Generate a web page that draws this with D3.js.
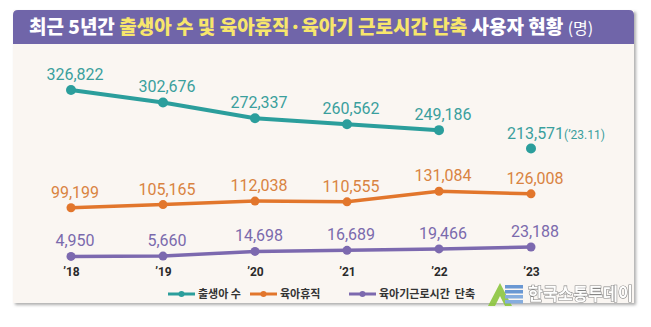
<!DOCTYPE html>
<html>
<head>
<meta charset="utf-8">
<script src="https://cdn.jsdelivr.net/npm/d3@7"></script>
<style>
  html, body { margin: 0; padding: 0; background: #fff; }
  svg { display: block; }
</style>
</head>
<body>
<div id="chart"></div>
<script>
const years = ['’18', '’19', '’20', '’21', '’22', '’23']
const births = [326822, 302676, 272337, 260562, 249186, 213571]
const leave = [99199, 105165, 112038, 110555, 131084, 126008]
const reduced = [4950, 5660, 14698, 16689, 19466, 23188]
const birthNote = '(’23.11)'
const seriesNames = ['출생아 수', '육아휴직', '육아기근로시간  단축']

const width = 651,
  height = 327

const colors = ['#2b9e9c', '#e2762c', '#7c69af']
const textColors = ['#3a9f9d', '#d98341', '#7a6aad']

const svg = d3.select('#chart').append('svg')
  .attr('width', width)
  .attr('height', height)
  .style('font-family', 'Roboto, "Noto Sans CJK KR", sans-serif')

const defs = svg.append('defs')
const shadow = defs.append('filter').attr('id', 'shadow')
  .attr('x', '-5%').attr('y', '-5%').attr('width', '110%').attr('height', '115%')
shadow.append('feDropShadow')
  .attr('dx', 2).attr('dy', 2).attr('stdDeviation', 1.5)
  .attr('flood-color', '#777').attr('flood-opacity', 0.6)

// panel + header
const panel = {x: 13, y: 10, w: 621, h: 293, head: 34, r: 5}
svg.append('rect')
  .attr('x', panel.x).attr('y', panel.y)
  .attr('width', panel.w).attr('height', panel.h)
  .attr('fill', '#faf6f2')
  .attr('filter', 'url(#shadow)')
svg.append('path')
  .attr('d', `M${panel.x},${panel.y + panel.head} V${panel.y + panel.r} Q${panel.x},${panel.y} ${panel.x + panel.r},${panel.y}
    H${panel.x + panel.w - panel.r} Q${panel.x + panel.w},${panel.y} ${panel.x + panel.w},${panel.y + panel.r} V${panel.y + panel.head} Z`)
  .attr('fill', '#7065a9')

const title = svg.append('text')
  .attr('x', 29).attr('y', 34)
  .style('font-family', '"Noto Sans CJK KR", sans-serif')
  .style('font-weight', 900)
  .style('font-size', '19px')
  .attr('fill', '#fff')
title.append('tspan').text('최근 5년간 ')
title.append('tspan').attr('fill', '#f7e66c').text('출생아 수 및 육아휴직·육아기 근로시간 단축')
title.append('tspan').text(' 사용자 현황 ')
title.append('tspan').style('font-weight', 400).style('font-size', '16px').text('(명)')

// scales
const xScale = d3.scalePoint()
  .domain(years)
  .range([71, 531])
const yScale = d3.scaleLinear()
  .domain([0, 350000])
  .range([259, 78])

const xAxis = d3.axisBottom(xScale).tickSize(0).tickPadding(0)
const axisG = svg.append('g')
  .attr('transform', 'translate(0, 267)')
  .call(xAxis)
axisG.select('.domain').remove()
axisG.selectAll('text')
  .style('font-size', '12px')
  .style('font-weight', 700)
  .style('font-family', 'Roboto, sans-serif')
  .attr('fill', '#2a2a2a')

const series = [births, leave, reduced]
const widths = [4, 3.5, 3.5]

series.forEach((values, si) => {
  const data = values.map((v, i) => ({year: years[i], value: v, i}))
  // the last birth figure is a partial year ('23.11), so it stays unconnected
  const line = d3.line()
    .defined(d => si !== 0 || d.i < years.length - 1)
    .x(d => xScale(d.year))
    .y(d => yScale(d.value))
  svg.append('path')
    .datum(data)
    .attr('d', line)
    .attr('fill', 'none')
    .attr('stroke', colors[si])
    .attr('stroke-width', widths[si])
    .attr('stroke-linejoin', 'round')
    .attr('stroke-linecap', 'round')

  svg.selectAll(`.dot-${si}`)
    .data(data)
    .enter().append('circle')
    .attr('cx', d => xScale(d.year))
    .attr('cy', d => yScale(d.value))
    .attr('r', si === 0 ? 5 : 4.5)
    .attr('fill', colors[si])

  const labels = svg.selectAll(`.label-${si}`)
    .data(data)
    .enter().append('text')
    .attr('x', d => xScale(d.year) + 4)
    .attr('y', d => yScale(d.value) - 10)
    .attr('text-anchor', 'middle')
    .style('font-size', '16px')
    .attr('fill', textColors[si])
    .text(d => d3.format(',')(d.value))
  if (si === 0) {
    labels.filter(d => d.i === years.length - 1)
      .attr('x', d => xScale(d.year) - 24)
      .attr('text-anchor', 'start')
      .append('tspan')
      .style('font-size', '12px')
      .text(birthNote)
  }
})

// legend
const legendX = [168, 250, 349]
const legendG = svg.append('g')
seriesNames.forEach((name, i) => {
  const g = legendG.append('g').attr('transform', `translate(${legendX[i]}, 294)`)
  g.append('line')
    .attr('x1', 0).attr('x2', 27)
    .attr('stroke', colors[i]).attr('stroke-width', 3)
  g.append('circle').attr('cx', 13.5).attr('r', 3).attr('fill', colors[i])
  g.append('text')
    .attr('x', 30).attr('y', 4)
    .style('font-family', '"Noto Sans CJK KR", sans-serif')
    .style('font-size', '11px')
    .style('font-weight', 700)
    .attr('fill', '#333')
    .style('white-space', 'pre')
    .text(name)
})

// watermark
const wm = svg.append('g').attr('opacity', 0.9)
wm.append('path')
  .attr('d', 'M488,306 L500,283 L512,306 L505,306 L500,296 L495,306 Z')
  .attr('fill', '#8cc63f')
;[0, 1, 2, 3].forEach(k => {
  wm.append('rect')
    .attr('x', 505).attr('y', 285 + k * 5)
    .attr('width', 18).attr('height', 3.5)
    .attr('fill', k < 2 ? '#5b8ed0' : '#7aa6dc')
})
wm.append('text')
  .attr('x', 528).attr('y', 300)
  .attr('textLength', 105)
  .attr('lengthAdjust', 'spacingAndGlyphs')
  .style('font-family', '"Noto Sans CJK KR", sans-serif')
  .style('font-size', '17px')
  .style('font-weight', 700)
  .attr('fill', '#fff')
  .attr('stroke', '#7a7a7a')
  .attr('stroke-width', 1.2)
  .style('paint-order', 'stroke')
  .text('한국소통투데이')
</script>
</body>
</html>
